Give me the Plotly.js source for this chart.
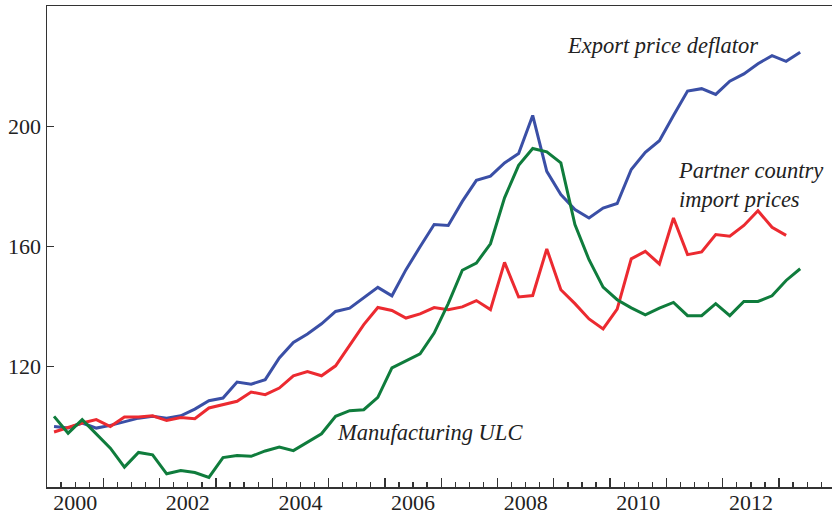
<!DOCTYPE html>
<html>
<head>
<meta charset="utf-8">
<script src="https://cdn.plot.ly/plotly-3.0.1.min.js"></script>
<style>html,body{margin:0;padding:0;background:#fff;}#chart{width:832px;height:516px;}</style>
</head>
<body>
<div id="chart"></div>
<script>
var quarters = [
"2000Q1","2000Q2","2000Q3","2000Q4","2001Q1","2001Q2","2001Q3","2001Q4",
"2002Q1","2002Q2","2002Q3","2002Q4","2003Q1","2003Q2","2003Q3","2003Q4",
"2004Q1","2004Q2","2004Q3","2004Q4","2005Q1","2005Q2","2005Q3","2005Q4",
"2006Q1","2006Q2","2006Q3","2006Q4","2007Q1","2007Q2","2007Q3","2007Q4",
"2008Q1","2008Q2","2008Q3","2008Q4","2009Q1","2009Q2","2009Q3","2009Q4",
"2010Q1","2010Q2","2010Q3","2010Q4","2011Q1","2011Q2","2011Q3","2011Q4",
"2012Q1","2012Q2","2012Q3","2012Q4","2013Q1","2013Q2"];

var exportDeflator = [100.1,99.6,101.3,99.6,100.5,101.8,102.9,103.5,102.9,103.7,105.9,108.7,109.6,114.9,114.2,115.7,
122.9,128.1,130.9,134.3,138.4,139.5,143.1,146.4,143.6,152.3,159.9,167.3,167.0,175.0,182.0,183.4,
187.8,190.9,203.6,185.0,177.3,172.3,169.5,172.8,174.3,185.6,191.3,195.2,203.6,211.7,212.5,210.6,
215.0,217.4,220.8,223.5,221.6,224.6];

var partnerImport = [98.3,99.8,101.3,102.4,100.1,103.3,103.3,103.7,102.1,103.1,102.7,106.3,107.4,108.5,111.6,110.7,
112.9,117.0,118.4,117.0,120.3,127.3,134.0,139.7,138.7,136.2,137.6,139.7,139.0,139.9,142.0,139.0,
154.7,143.2,143.7,159.2,145.6,141.0,135.9,132.6,139.2,155.9,158.4,154.2,169.5,157.3,158.2,164.0,
163.4,167.0,171.9,166.4,163.7];

var manufULC = [103.5,97.9,102.4,97.7,92.9,86.6,91.5,90.7,84.4,85.5,84.8,83.2,89.8,90.5,90.2,92.0,
93.3,92.1,94.8,97.7,103.5,105.4,105.7,109.8,119.6,122.0,124.3,131.2,141.0,152.1,154.5,160.9,
176.2,187.0,192.6,191.5,187.8,167.3,155.6,146.5,142.3,139.6,137.3,139.5,141.4,137.0,137.0,141.0,
137.0,141.7,141.7,143.6,148.7,152.6];

var yTickVals = [120, 160, 200];
var xLabelYears = ["2000","2002","2004","2006","2008","2010","2012"];

function qToX(q) {
  var y = parseInt(q.slice(0, 4), 10);
  var n = parseInt(q.slice(5), 10);
  return y + (n - 0.5) / 4;
}
function xsFor(arr) { return arr.map(function (_, i) { return qToX(quarters[i]); }); }

var majorTicks = [];
for (var yr = 2001; yr <= 2013; yr++) majorTicks.push(yr);
var labelVals = xLabelYears.map(function (s) { return parseInt(s, 10) + 0.5; });

var xRange = [2000, 2013.94];

var traces = [
  {x: xsFor(exportDeflator), y: exportDeflator, mode: 'lines', line: {color: '#3a4fa6', width: 3}, hoverinfo: 'skip'},
  {x: xsFor(partnerImport), y: partnerImport, mode: 'lines', line: {color: '#ec2a30', width: 3}, hoverinfo: 'skip'},
  {x: xsFor(manufULC), y: manufULC, mode: 'lines', line: {color: '#0f7c3c', width: 3}, hoverinfo: 'skip'},
  {x: labelVals, y: labelVals.map(function(){return 80;}), xaxis: 'x2', mode: 'markers', marker: {opacity: 0}, hoverinfo: 'skip'}
];

var serif = "'Liberation Serif', 'Times New Roman', serif";
var annFont = {family: serif, size: 22.5, color: '#222', style: 'italic'};
var tickFont = {family: serif, size: 22, color: '#222'};

var layout = {
  width: 832, height: 516,
  margin: {l: 47, r: 0, t: 6, b: 29},
  paper_bgcolor: '#fff', plot_bgcolor: '#fff',
  showlegend: false,
  xaxis: {
    range: xRange, showgrid: false, zeroline: false,
    showline: true, linecolor: '#333', linewidth: 1.5, mirror: true,
    tickmode: 'array', tickvals: majorTicks, ticks: 'inside', ticklen: 9, tickwidth: 1.3, tickcolor: '#333',
    showticklabels: false,
    minor: {tickmode: 'linear', tick0: 2000, dtick: 0.25, ticks: 'inside', ticklen: 5, tickwidth: 1.3, tickcolor: '#333'}
  },
  xaxis2: {
    range: xRange, overlaying: 'x', anchor: 'y', side: 'bottom',
    showgrid: false, zeroline: false, showline: false, ticks: '',
    tickmode: 'array', tickvals: labelVals, ticktext: xLabelYears,
    tickfont: tickFont
  },
  yaxis: {
    range: [80, 240], showgrid: false, zeroline: false,
    showline: true, linecolor: '#333', linewidth: 1.5,
    tickmode: 'array', tickvals: yTickVals, ticks: 'inside', ticklen: 7, tickwidth: 1.3, tickcolor: '#333',
    tickfont: tickFont
  },
  annotations: [
    {x: 2009.19, y: 226.7, xref: 'x', yref: 'y', text: 'Export price deflator', showarrow: false, xanchor: 'left', yanchor: 'middle', font: annFont},
    {x: 2011.17, y: 180.3, xref: 'x', yref: 'y', text: 'Partner country<br>import prices', showarrow: false, xanchor: 'left', yanchor: 'middle', align: 'left', font: annFont},
    {x: 2005.12, y: 98.0, xref: 'x', yref: 'y', text: 'Manufacturing ULC', showarrow: false, xanchor: 'left', yanchor: 'middle', font: annFont}
  ]
};

Plotly.newPlot('chart', traces, layout, {staticPlot: true, displayModeBar: false});
</script>
</body>
</html>
